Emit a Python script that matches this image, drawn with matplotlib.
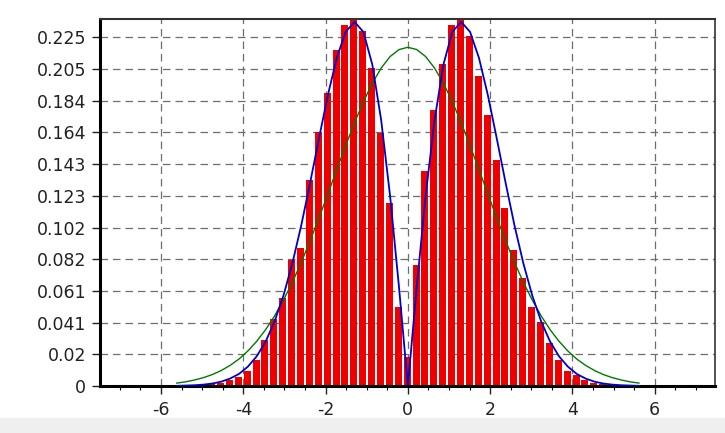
import matplotlib
matplotlib.use("Agg")
import matplotlib.pyplot as plt
import numpy as np

# histogram bins (centres) and heights
bin_x = [-4.77, -4.554, -4.338, -4.122, -3.906, -3.69, -3.474, -3.258, -3.042,
         -2.826, -2.61, -2.394, -2.178, -1.962, -1.746, -1.53, -1.314, -1.098,
         -0.882, -0.666, -0.45, -0.234, -0.018, 0.198, 0.414, 0.63, 0.846,
         1.062, 1.278, 1.494, 1.71, 1.926, 2.142, 2.358, 2.574, 2.79, 3.006,
         3.222, 3.438, 3.654, 3.87, 4.086, 4.302, 4.518, 4.734]
bin_h = [0.001, 0.002, 0.004, 0.006, 0.010, 0.017, 0.030, 0.043, 0.057,
         0.081, 0.089, 0.133, 0.164, 0.189, 0.217, 0.233, 0.240, 0.229,
         0.205, 0.163, 0.118, 0.051, 0.019, 0.078, 0.139, 0.178, 0.208,
         0.233, 0.240, 0.226, 0.200, 0.175, 0.146, 0.115, 0.088, 0.070, 0.051,
         0.041, 0.028, 0.017, 0.010, 0.007, 0.004, 0.002, 0.001]

# curves
curve_x = [-5.616, -5.4, -5.184, -4.968, -4.752, -4.536, -4.32, -4.104, -3.888,
           -3.672, -3.456, -3.24, -3.024, -2.808, -2.592, -2.376, -2.16, -1.944,
           -1.728, -1.512, -1.296, -1.08, -0.864, -0.648, -0.432, -0.216, 0.0,
           0.216, 0.432, 0.648, 0.864, 1.08, 1.296, 1.512, 1.728, 1.944, 2.16,
           2.376, 2.592, 2.808, 3.024, 3.24, 3.456, 3.672, 3.888, 4.104, 4.32,
           4.536, 4.752, 4.968, 5.184, 5.4, 5.616]
blue_y = [0.0001, 0.0003, 0.0005, 0.0009, 0.0016, 0.0028, 0.0048, 0.0078, 0.0125,
          0.0192, 0.0287, 0.0416, 0.0583, 0.0790, 0.1035, 0.1310, 0.1598, 0.1877,
          0.2117, 0.2285, 0.2350, 0.2285, 0.2074, 0.1715, 0.1227, 0.0640, 0.0,
          0.0640, 0.1227, 0.1715, 0.2074, 0.2285, 0.2350, 0.2285, 0.2117, 0.1877,
          0.1598, 0.1310, 0.1035, 0.0790, 0.0583, 0.0416, 0.0287, 0.0192, 0.0125,
          0.0078, 0.0048, 0.0028, 0.0016, 0.0009, 0.0005, 0.0003, 0.0001]
green_y = [0.0019, 0.0027, 0.0039, 0.0054, 0.0074, 0.0100, 0.0133, 0.0174, 0.0226,
           0.0289, 0.0364, 0.0452, 0.0554, 0.0669, 0.0797, 0.0937, 0.1085, 0.1239,
           0.1396, 0.1551, 0.1699, 0.1835, 0.1954, 0.2052, 0.2126, 0.2171, 0.2186,
           0.2171, 0.2126, 0.2052, 0.1954, 0.1835, 0.1699, 0.1551, 0.1396, 0.1239,
           0.1085, 0.0937, 0.0797, 0.0669, 0.0554, 0.0452, 0.0364, 0.0289, 0.0226,
           0.0174, 0.0133, 0.0100, 0.0074, 0.0054, 0.0039, 0.0027, 0.0019]

x_ticks = [-6, -4, -2, 0, 2, 4, 6]
x_labels = ['-6', '-4', '-2', '0', '2', '4', '6']
y_labels = ['0', '0.02', '0.041', '0.061', '0.082', '0.102', '0.123',
            '0.143', '0.164', '0.184', '0.205', '0.225']

plt.rcParams['font.family'] = ['DejaVu Sans']

fig = plt.figure(figsize=(7.25, 4.33), dpi=100)
# light grey strip at the bottom of the window
fig.patches.append(plt.Rectangle((0, 0), 1, 0.035, transform=fig.transFigure,
                                 color='#efefef', zorder=-1))
ax = fig.add_axes([0.138, 0.1085, 0.848, 0.8475])

ax.bar(bin_x, bin_h, width=0.17, color='#ee0000', linewidth=0, zorder=2)
ax.plot(curve_x, green_y, color='#007a00', lw=1.0, zorder=3)
ax.plot(curve_x, blue_y, color='#0000cc', lw=1.3, zorder=4)

ax.set_xlim(-7.48, 7.46)
ax.set_ylim(0, 0.2368)
ax.set_xticks(x_ticks)
ax.set_xticklabels(x_labels)
ax.set_xticks(np.arange(-7, 7.5, 0.5), minor=True)
ax.set_yticks(np.linspace(0, 0.225, 12))
ax.set_yticklabels(y_labels)

ax.grid(True, which='major', color='#6e6e6e', lw=0.9, linestyle=(0, (6, 4)))
ax.set_axisbelow(True)
ax.tick_params(axis='both', which='major', direction='out', length=6,
               width=1, labelsize=12.5, colors='#222222')
ax.tick_params(axis='x', which='major', pad=5)
ax.tick_params(axis='y', which='major', pad=4)
ax.tick_params(axis='x', which='minor', direction='out', length=3, width=0.8)

ax.spines['left'].set_linewidth(2.2)
ax.spines['bottom'].set_linewidth(2.2)
ax.spines['top'].set_linewidth(1.5)
ax.spines['right'].set_linewidth(1.2)
ax.spines['top'].set_color('#333333')
ax.spines['right'].set_color('#333333')

fig.savefig('out.png', dpi=100)
